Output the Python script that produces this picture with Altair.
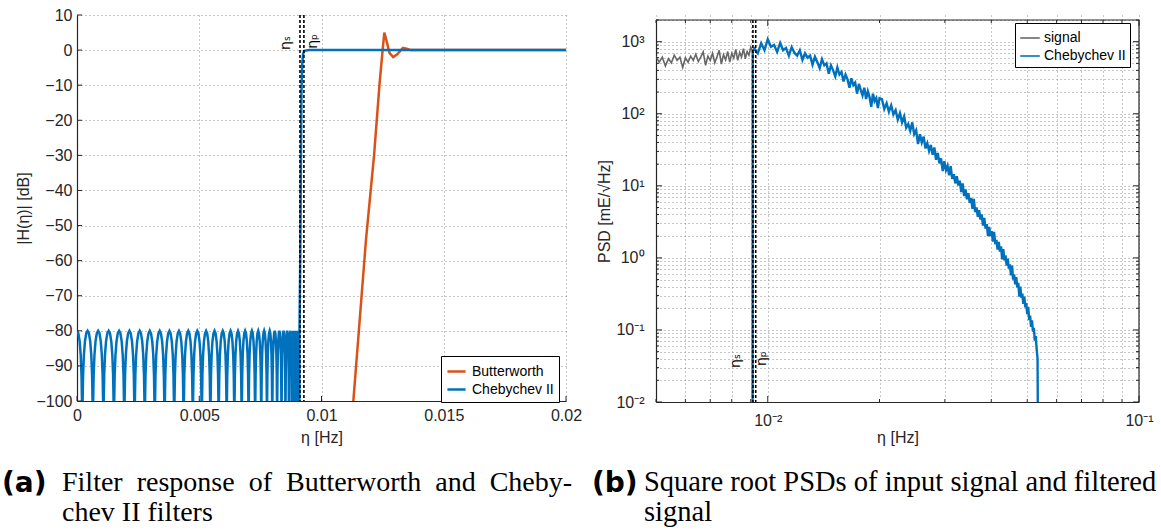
import altair as alt
import pandas as pd

FONT = "Liberation Sans"
SERIF = "Liberation Serif"
BLUE = "#0072BD"
RED = "#D95319"
GRAY = "#676767"
AXIS = "#262626"

# ---------------- panel (a): filter responses ----------------
A_X_TICKS = [0, 0.005, 0.01, 0.015, 0.02]
A_Y_TICKS = [-100, -90, -80, -70, -60, -50, -40, -30, -20, -10, 0, 10]

# stop-band ripple maxima (-80 dB) and nulls of the Chebychev II response
CHEB_PEAKS = [0.0, 0.000433, 0.000865, 0.001295, 0.001722, 0.002145, 0.002564,
              0.002976, 0.003382, 0.003780, 0.004170, 0.004550, 0.004920, 0.005281,
              0.005625, 0.005961, 0.006280, 0.006586, 0.006877, 0.007153, 0.007413,
              0.007655, 0.007881, 0.008088, 0.008278, 0.008448, 0.008600, 0.008731,
              0.008844, 0.008936, 0.009007, 0.009059, 0.009090, 0.009100]
CHEB_NULLS = [0.000217, 0.000649, 0.001080, 0.001509, 0.001934, 0.002355, 0.002771,
              0.003180, 0.003582, 0.003976, 0.004361, 0.004736, 0.005103, 0.005455,
              0.005795, 0.006122, 0.006435, 0.006736, 0.007018, 0.007286, 0.007536,
              0.007770, 0.007987, 0.008185, 0.008365, 0.008526, 0.008668, 0.008790,
              0.008892, 0.008974, 0.009036, 0.009077, 0.009097]
# shape of one ripple lobe, from its maximum (0) to the null (1)
LOBE_T = [0.0, 0.25, 0.5, 0.7, 0.85, 0.94, 1.0]
LOBE_DB = [-80.0, -80.7, -83.0, -86.9, -92.6, -100.0, -140.0]
# transition band and pass band of the Chebychev II filter
CHEB_EDGE_F = [0.00913, 0.00916, 0.00918, 0.00921, 0.00925, 0.0093, 0.0095, 0.02]
CHEB_EDGE_DB = [-60, -30, -12, -4, -1, -0.2, 0, 0]

BUTTER_F = [0.01128, 0.01155, 0.01182, 0.01215, 0.01237, 0.01250, 0.01257, 0.01264,
            0.01278, 0.01293, 0.01310, 0.01333, 0.01348, 0.01365, 0.02]
BUTTER_DB = [-102, -78, -54, -30, -10, 0, 5, 3.2, -0.8, -2.0, -1.2, 0.6, 0.4, 0, 0]

ETA_F = [0.00912, 0.00928]
ETA_TEXT = ["ηₛ", "ηₚ"]
ETA_TEXT_X_A = [0.00855, 0.00965]
ETA_TEXT_Y_A = [2.0, 2.5]

# ---------------- panel (b): square-root PSDs ----------------
B_X_DECADES = [0.01, 0.1]
B_X_MINOR = [0.005, 0.006, 0.007, 0.008, 0.009, 0.02, 0.03, 0.04, 0.05, 0.06, 0.07,
             0.08, 0.09]
B_Y_DECADES = [0.01, 0.1, 1, 10, 100, 1000]
B_Y_MINOR = [0.02, 0.03, 0.04, 0.05, 0.06, 0.07, 0.08, 0.09,
             0.2, 0.3, 0.4, 0.5, 0.6, 0.7, 0.8, 0.9,
             2, 3, 4, 5, 6, 7, 8, 9,
             20, 30, 40, 50, 60, 70, 80, 90,
             200, 300, 400, 500, 600, 700, 800, 900, 2000]

SIG_F = [0.0050, 0.0051, 0.0052, 0.0053, 0.0054, 0.0055, 0.0056, 0.0057, 0.0058, 0.0059,
         0.0060, 0.0061, 0.0062, 0.0063, 0.0064, 0.0065, 0.0066, 0.0067, 0.0068, 0.0069,
         0.0070, 0.0071, 0.0072, 0.0073, 0.0074, 0.0075, 0.0076, 0.0077, 0.0078, 0.0079,
         0.0080, 0.0081, 0.0082, 0.0083, 0.0084, 0.0085, 0.0086, 0.0087, 0.0088, 0.0089,
         0.0090, 0.0091]
SIG_V = [620, 520, 610, 460, 580, 510, 650, 550, 610, 440,
         600, 520, 630, 550, 670, 530, 610, 720, 470, 630,
         550, 690, 510, 620, 760, 490, 660, 560, 730, 520,
         690, 590, 780, 550, 710, 610, 800, 580, 730, 650,
         840, 730]

FILT_F = [0.00910, 0.00911,
          0.0092, 0.0094, 0.0096, 0.0098, 0.0100,
          0.0102, 0.0104, 0.0106, 0.0108, 0.0110, 0.0112, 0.0114, 0.0116, 0.0118, 0.0120,
          0.0122, 0.0124, 0.0126, 0.0128, 0.0130, 0.0132, 0.0134, 0.0136, 0.0138, 0.0140,
          0.0142, 0.0144, 0.0146, 0.0148, 0.0150, 0.0152, 0.0154, 0.0156, 0.0158, 0.0160,
          0.0162, 0.0164, 0.0166, 0.0168, 0.0170, 0.0172, 0.0174, 0.0176, 0.0178, 0.0180,
          0.0182, 0.0184, 0.0186, 0.0188, 0.0190, 0.0192, 0.0194, 0.0196, 0.0198, 0.0200,
          0.0203, 0.0206, 0.0209, 0.0212, 0.0215, 0.0218, 0.0221, 0.0224, 0.0227, 0.0230,
          0.0233, 0.0236, 0.0239, 0.0242, 0.0245, 0.0248, 0.0251, 0.0254, 0.0257, 0.0260,
          0.0263, 0.0266, 0.0269, 0.0272, 0.0275, 0.0278, 0.0281, 0.0284, 0.0287, 0.0290,
          0.0293, 0.0296, 0.0299, 0.0302, 0.0305, 0.0308, 0.0311, 0.0314, 0.0317, 0.0320,
          0.0323, 0.0326, 0.0329, 0.0332, 0.0335, 0.0338, 0.0341, 0.0344, 0.0347, 0.0350,
          0.0353, 0.0356, 0.0359, 0.0362, 0.0365, 0.0368, 0.0371, 0.0374, 0.0377, 0.0380,
          0.0383, 0.0386, 0.0389, 0.0392, 0.0395, 0.0398, 0.0401, 0.0404, 0.0407, 0.0410,
          0.0413, 0.0416, 0.0419, 0.0422, 0.0425, 0.0428, 0.0431, 0.0434, 0.0437, 0.0440,
          0.0443, 0.0446, 0.0449, 0.0452, 0.0455, 0.0458, 0.0461, 0.0464, 0.0467, 0.0470,
          0.0473, 0.0476, 0.0479, 0.0482, 0.0485, 0.0488, 0.0491, 0.0494, 0.0497, 0.0500,
          0.0503, 0.0506, 0.0509, 0.0512, 0.0515, 0.0518, 0.0521, 0.0524, 0.0527, 0.0530,
          0.0533, 0.0535]
FILT_V = [0.001, 740,
          800, 690, 950, 760, 1080,
          850, 900, 720, 960, 760, 820, 640, 840, 700, 640,
          760, 560, 690, 600, 640, 480, 620, 520, 430, 570,
          470, 500, 360, 470, 400, 330, 440, 350, 380, 280,
          350, 300, 230, 310, 250, 270, 190, 260, 215, 180,
          230, 160, 205, 170, 125, 190, 150, 165, 120, 165,
          160, 116, 140, 107, 131, 98, 112, 83, 102, 76,
          92, 64, 72, 58, 76, 52, 59, 38, 52, 40,
          48, 33, 39, 30.5, 37, 27, 34, 23, 28.5, 20.5,
          24, 16, 22, 16.5, 19, 14, 18.8, 12.5, 14.5, 10.8,
          13.6, 10.1, 11.8, 8.2, 10.8, 7.2, 8.9, 6.5, 7.9, 5.8,
          6.8, 4.8, 6.6, 4.3, 5.0, 3.7, 4.6, 3.4, 4.0, 2.8,
          3.6, 2.55, 2.95, 2.0, 2.7, 2.0, 2.35, 1.68, 2.3, 1.55,
          1.78, 1.3, 1.66, 1.22, 1.45, 0.95, 1.32, 0.92, 1.08, 0.78,
          0.98, 0.71, 0.81, 0.57, 0.78, 0.5, 0.59, 0.43, 0.54, 0.39,
          0.45, 0.29, 0.40, 0.28, 0.32, 0.23, 0.29, 0.205, 0.235, 0.165,
          0.21, 0.137, 0.158, 0.11, 0.136, 0.095, 0.107, 0.071, 0.082, 0.055,
          0.040, 0.001]

ETA_TEXT_X_B = [0.00819, 0.00966]
ETA_TEXT_Y_B = [0.037, 0.040]

CAPTION_A = ["Filter", "response", "of", "Butterworth", "and", "Cheby-"]
CAPTION_A2 = "chev II filters"
CAPTION_B = ["Square root PSDs of input signal and filtered", "signal"]

# ---------------- build tables ----------------
cx, cy = [], []
for i, n in enumerate(CHEB_NULLS):
    p0, p1 = CHEB_PEAKS[i], CHEB_PEAKS[i + 1]
    for t, d in zip(LOBE_T, LOBE_DB):
        cx.append(p0 + t * (n - p0))
        cy.append(d)
    for t, d in zip(LOBE_T[-2::-1], LOBE_DB[-2::-1]):
        cx.append(p1 + t * (n - p1))
        cy.append(d)
cx += CHEB_EDGE_F
cy += CHEB_EDGE_DB
cheb_a = pd.DataFrame({"f": cx, "db": cy, "s": "Chebychev II"})
cheb_a["i"] = range(len(cheb_a))
butter_a = pd.DataFrame({"f": BUTTER_F, "db": BUTTER_DB, "s": "Butterworth"})
butter_a["i"] = range(len(butter_a))

sig_b = pd.DataFrame({"f": SIG_F, "v": SIG_V, "s": "signal"})
filt_b = pd.DataFrame({"f": FILT_F, "v": FILT_V, "s": "Chebychev II"})

W_A, H_A = 489, 386
W_B, H_B = 483, 387
TOP_B = 5

# ---------------- panel (a) ----------------
xa = alt.Scale(domain=[0, 0.02], nice=False, zero=False)
ya = alt.Scale(domain=[-100, 10], nice=False, zero=False)
col_a = alt.Color(
    "s:N",
    scale=alt.Scale(domain=["Butterworth", "Chebychev II"], range=[RED, BLUE]),
    legend=alt.Legend(orient="none", legendX=364, legendY=341, title=None,
                      symbolType="stroke", symbolSize=330, symbolStrokeWidth=2.5,
                      labelFont=FONT, labelFontSize=14, labelColor="black",
                      fillColor="white", strokeColor="black", padding=5,
                      rowPadding=0, labelOffset=5, labelLimit=300),
)

x_axis_a = alt.Axis(values=A_X_TICKS, format="~g", grid=True, ticks=False,
                    labelFlush=False, labelOverlap=False, labelPadding=6,
                    title="η [Hz]", titleY=28)
y_axis_a = alt.Axis(values=A_Y_TICKS, format="d", grid=True, ticks=False,
                    labelFlush=False, labelOverlap=False, labelPadding=5,
                    title="|H(η)| [dB]", titleX=-46)


def XA(field):
    return alt.X(field, scale=xa, axis=x_axis_a)


def YA(field):
    return alt.Y(field, scale=ya, axis=y_axis_a)


butter_layer = alt.Chart(butter_a).mark_line(strokeWidth=2.5, clip=True).encode(
    x=XA("f:Q"), y=YA("db:Q"), color=col_a, order="i:Q")
cheb_layer = alt.Chart(cheb_a).mark_line(strokeWidth=2.5, clip=True).encode(
    x=XA("f:Q"), y=YA("db:Q"), color=col_a, order="i:Q")
eta_rule_a = alt.Chart(pd.DataFrame({"f": ETA_F})).mark_rule(
    color="black", strokeDash=[3, 2], strokeWidth=1.6).encode(x=XA("f:Q"))
eta_text_a = alt.Chart(pd.DataFrame({"f": ETA_TEXT_X_A, "y": ETA_TEXT_Y_A, "t": ETA_TEXT})).mark_text(
    angle=270, font="DejaVu Sans", fontSize=14, color="black").encode(
    x=XA("f:Q"), y=YA("y:Q"), text="t:N")
ytick_a = alt.Chart(pd.DataFrame({"v": A_Y_TICKS})).mark_rule(color=AXIS).encode(
    y=YA("v:Q"), x=alt.value(0), x2=alt.value(5))
xtick_a = alt.Chart(pd.DataFrame({"v": A_X_TICKS})).mark_rule(color=AXIS).encode(
    x=XA("v:Q"), y=alt.value(H_A), y2=alt.value(H_A - 5))


def caption(text, x, y, font=SERIF, size=28, weight="normal"):
    return alt.Chart(pd.DataFrame({"t": [text]})).mark_text(
        align="left", baseline="alphabetic", font=font, fontSize=size,
        fontWeight=weight, color="black").encode(
        x=alt.value(x), y=alt.value(y), text="t:N")


cap_a = [caption("(a)", -75, 477, font="DejaVu Sans", size=28, weight="bold"),
         caption("\u00a0 ".join(CAPTION_A), -15, 476),
         caption(CAPTION_A2, -15, 506)]

left = alt.layer(butter_layer, cheb_layer, eta_rule_a, eta_text_a, ytick_a, xtick_a,
                 *cap_a).properties(width=W_A, height=H_A)

# ---------------- panel (b) ----------------
xb = alt.Scale(type="log", domain=[0.005, 0.1], nice=False)
yb = alt.Scale(type="log", domain=[0.01, 2000], nice=False, range=[H_B, TOP_B])
col_b = alt.Color(
    "s:N",
    scale=alt.Scale(domain=["signal", "Chebychev II"], range=[GRAY, BLUE]),
    legend=alt.Legend(orient="none", legendX=359, legendY=8, title=None,
                      symbolType="stroke", symbolSize=380, symbolStrokeWidth=1.6,
                      labelFont=FONT, labelFontSize=14, labelColor="black",
                      fillColor="white", strokeColor="black", padding=4,
                      rowPadding=0, labelOffset=3, labelLimit=300),
)
x_expr = "datum.value == 0.01 ? '10⁻²' : datum.value == 0.1 ? '10⁻¹' : ''"
y_expr = ("datum.value == 1000 ? '10³' : datum.value == 100 ? '10²' : "
          "datum.value == 10 ? '10¹' : datum.value == 1 ? '10⁰' : "
          "datum.value == 0.1 ? '10⁻¹' : datum.value == 0.01 ? '10⁻²' : ''")
x_axis_b = alt.Axis(values=sorted(B_X_DECADES + B_X_MINOR), labelExpr=x_expr, grid=True,
                    ticks=False, labelFlush=False, labelOverlap=False, labelPadding=10,
                    title="η [Hz]", titleY=27)
y_axis_b = alt.Axis(values=sorted(B_Y_DECADES + B_Y_MINOR), labelExpr=y_expr, grid=True,
                    ticks=False, labelFlush=False, labelOverlap=False, labelPadding=12,
                    title="PSD [mE/√Hz]", titleX=-44)


def XB(field):
    return alt.X(field, scale=xb, axis=x_axis_b)


def YB(field):
    return alt.Y(field, scale=yb, axis=y_axis_b)


sig_layer = alt.Chart(sig_b).mark_line(strokeWidth=1.6, clip=True).encode(
    x=XB("f:Q"), y=YB("v:Q"), color=col_b)
filt_layer = alt.Chart(filt_b).mark_line(strokeWidth=2.4, clip=True).encode(
    x=XB("f:Q"), y=YB("v:Q"), color=col_b)
eta_rule_b = alt.Chart(pd.DataFrame({"f": ETA_F})).mark_rule(
    color="black", strokeDash=[3, 2], strokeWidth=1.6).encode(
    x=XB("f:Q"), y=alt.value(TOP_B), y2=alt.value(H_B))
eta_text_b = alt.Chart(pd.DataFrame({"f": ETA_TEXT_X_B, "y": ETA_TEXT_Y_B, "t": ETA_TEXT})).mark_text(
    angle=270, font="DejaVu Sans", fontSize=14, color="black").encode(
    x=XB("f:Q"), y=YB("y:Q"), text="t:N")


def yticks(vals, length):
    d = pd.DataFrame({"v": vals})
    left_t = alt.Chart(d).mark_rule(color=AXIS).encode(
        y=YB("v:Q"), x=alt.value(0), x2=alt.value(length))
    right_t = alt.Chart(d).mark_rule(color=AXIS).encode(
        y=YB("v:Q"), x=alt.value(W_B), x2=alt.value(W_B - length))
    return [left_t, right_t]


def xticks(vals, length):
    d = pd.DataFrame({"v": vals})
    bot = alt.Chart(d).mark_rule(color=AXIS).encode(
        x=XB("v:Q"), y=alt.value(H_B), y2=alt.value(H_B - length))
    top = alt.Chart(d).mark_rule(color=AXIS).encode(
        x=XB("v:Q"), y=alt.value(TOP_B), y2=alt.value(TOP_B + length))
    return [bot, top]


frame_marker = pd.DataFrame({"k": [0]})
top_border = alt.Chart(frame_marker).mark_rule(color=AXIS, strokeWidth=1.2).encode(
    x=alt.value(0), x2=alt.value(W_B), y=alt.value(TOP_B))
right_border = alt.Chart(frame_marker).mark_rule(color=AXIS, strokeWidth=1.2).encode(
    x=alt.value(W_B), y=alt.value(TOP_B), y2=alt.value(H_B))

cap_b = [caption("(b)", -64, 477, font="DejaVu Sans", size=28, weight="bold"),
         caption(CAPTION_B[0], -12, 476, size=28.5),
         caption(CAPTION_B[1], -12, 506, size=28.5)]

right = alt.layer(sig_layer, filt_layer, eta_rule_b, eta_text_b,
                  *yticks(B_Y_DECADES, 6), *yticks(B_Y_MINOR, 3),
                  *xticks(B_X_DECADES, 6), *xticks(B_X_MINOR, 3),
                  top_border, right_border, *cap_b).properties(width=W_B, height=H_B)

chart = alt.hconcat(left, right, spacing=90, bounds="flush").resolve_scale(
    color="independent").resolve_legend(color="independent").properties(
    padding={"left": 2, "top": 7, "right": 0, "bottom": 0}
).configure_view(stroke=None).configure_axis(
    labelFont=FONT, titleFont=FONT, labelFontSize=16, titleFontSize=16,
    titleFontWeight="normal", labelColor=AXIS, titleColor=AXIS,
    gridColor="#8c8c8c", gridDash=[1, 3], gridOpacity=1, gridWidth=1,
    domainColor=AXIS, domainWidth=1.2,
)

chart.save("out.html", embed_options={"renderer": "svg", "actions": False})
